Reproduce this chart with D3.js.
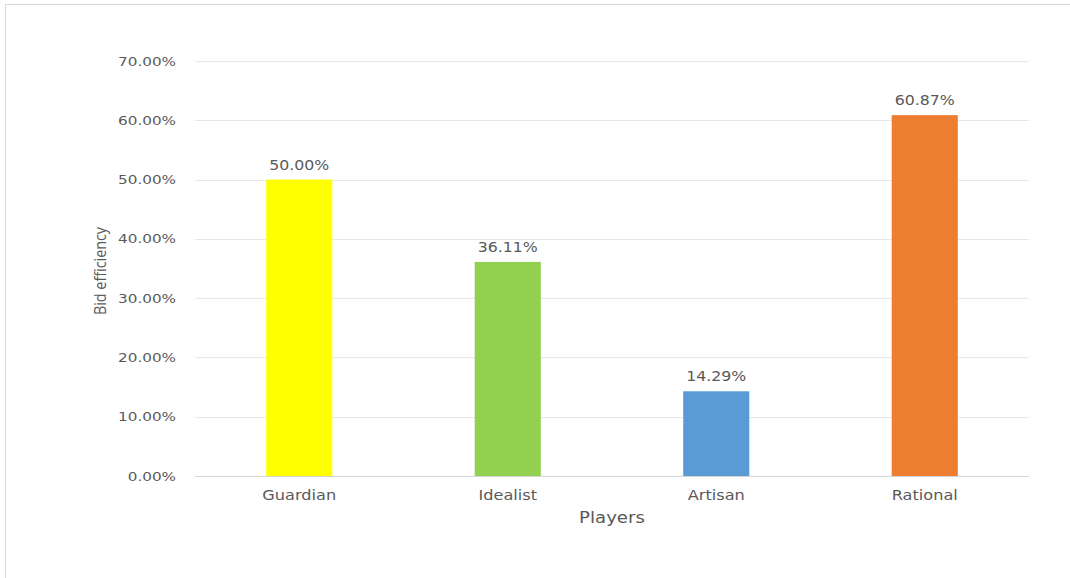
<!DOCTYPE html>
<html>
<head>
<meta charset="utf-8">
<script src="https://cdn.jsdelivr.net/npm/d3@7"></script>
<style>
  html, body { margin: 0; padding: 0; background: #fff; }
  svg { display: block; }
  text { font-family: "DejaVu Sans", Verdana, sans-serif; fill: #595959; }
</style>
</head>
<body>
<svg id="chart" width="1070" height="578"></svg>
<script>
// Bid efficiency by player type
const categories = ["Guardian", "Idealist", "Artisan", "Rational"];
const values = [0.5000, 0.3611, 0.1429, 0.6087];
const barColors = ["#FFFF00", "#92D050", "#5B9BD5", "#ED7D31"];
const yTicks = [0, 0.1, 0.2, 0.3, 0.4, 0.5, 0.6, 0.7];

const svg = d3.select("#chart");
const W = 1070, H = 578;
const plot = { left: 195, right: 1029, top: 61, bottom: 476 };
const stretch = 1.17; // horizontal text scaling

// frame of the chart area
svg.append("line").attr("x1", 5).attr("x2", W).attr("y1", 4.5).attr("y2", 4.5)
  .attr("stroke", "#d9d9d9").attr("stroke-width", 1);
svg.append("line").attr("x1", 5.5).attr("x2", 5.5).attr("y1", 4).attr("y2", H)
  .attr("stroke", "#d9d9d9").attr("stroke-width", 1);

const x = d3.scaleBand().domain(categories).range([plot.left, plot.right]).padding(0);
const y = d3.scaleLinear().domain([0, 0.7]).range([plot.bottom, plot.top]);
const barW = x.bandwidth() * 0.317;
const fmt = d3.format(".2%");

function label(g, tx, ty, str, anchor, size) {
  return g.append("text")
    .attr("transform", `translate(${tx},${ty}) scale(${stretch},1)`)
    .attr("text-anchor", anchor)
    .style("font-size", size + "px")
    .text(str);
}

// gridlines
const grid = svg.append("g");
grid.selectAll("line").data(yTicks).join("line")
  .attr("x1", plot.left).attr("x2", plot.right)
  .attr("y1", d => Math.round(y(d)) + 0.5).attr("y2", d => Math.round(y(d)) + 0.5)
  .attr("stroke", d => d === 0 ? "#d9d9d9" : "#e7e7e7")
  .attr("stroke-width", 1);

// y tick labels
const yLab = svg.append("g");
yTicks.forEach(t => label(yLab, 176, y(t) + 4.5, fmt(t), "end", 13));

// bars
svg.append("g").selectAll("rect").data(values).join("rect")
  .attr("x", (d, i) => x(categories[i]) + x.bandwidth() / 2 - barW / 2)
  .attr("width", barW)
  .attr("y", d => y(d))
  .attr("height", d => y(0) - y(d))
  .attr("fill", (d, i) => barColors[i]);

// value labels
const vLab = svg.append("g");
values.forEach((v, i) => label(vLab, x(categories[i]) + x.bandwidth() / 2, y(v) - 10, fmt(v), "middle", 13.5));

// category labels
const cLab = svg.append("g");
categories.forEach(c => label(cLab, x(c) + x.bandwidth() / 2, 500, c, "middle", 13.8));

// axis titles
label(svg, 612, 523, "Players", "middle", 15.5);
svg.append("text")
  .attr("transform", "translate(106,271) rotate(-90)")
  .attr("text-anchor", "middle")
  .style("font-family", "'Open Sans', sans-serif")
  .style("font-size", "16px")
  .attr("textLength", 88)
  .attr("lengthAdjust", "spacingAndGlyphs")
  .text("Bid efficiency");
</script>
</body>
</html>
